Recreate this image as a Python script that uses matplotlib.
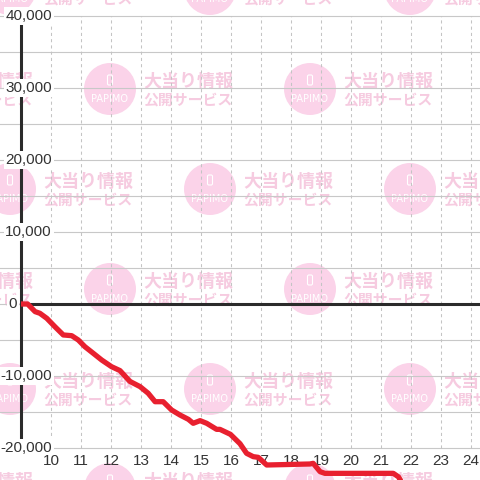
import matplotlib.pyplot as plt
from matplotlib.patches import Circle, FancyBboxPatch
from matplotlib.transforms import blended_transform_factory

# 時刻と差枚
hours = [9.0, 9.22, 9.47, 9.63, 9.86, 10.13, 10.41, 10.69, 10.91, 11.13, 11.41,
         11.69, 12.02, 12.3, 12.63, 12.97, 13.24, 13.47, 13.74, 14.02, 14.3,
         14.58, 14.74, 14.97, 15.19, 15.52, 15.63, 15.98, 16.3, 16.52, 16.74,
         16.91, 17.19, 18.63, 18.74, 18.97, 19.13, 21.41, 21.58, 21.8]
diff = [0, 0, -1060, -1290, -1990, -3150, -4300, -4400, -5000, -5930, -6850,
        -7780, -8710, -9250, -10750, -11480, -12400, -13570, -13570, -14720, -15420,
        -16020, -16570, -16200, -16570, -17410, -17410, -18100, -19400, -20740, -21200,
        -21300, -22360, -22220, -22130, -23290, -23520, -23520, -24000, -25500]

y_labels = [40000, 30000, 20000, 10000, 0, -10000, -20000]
y_grid = [-20000, -15000, -10000, -5000, 0, 5000, 10000, 15000, 20000,
          25000, 30000, 35000, 40000]
x_labels = [10, 11, 12, 13, 14, 15, 16, 17, 18, 19, 20, 21, 22, 23, 24]

W = 480.0
PINK_C = '#fbd3e9'
PINK_T = '#f6cbe0'
JP = ['Noto Sans CJK JP', 'DejaVu Sans']


def stamp(ax, cx, cy):
    # 透かしロゴ (ピクセル座標, 上が0)
    ax.add_patch(Circle((cx / W, 1 - cy / W), 26 / W, transform=ax.transAxes,
                        fc=PINK_C, ec='none', zorder=0.2))
    ax.add_patch(FancyBboxPatch(((cx - 2.5) / W, 1 - (cy - 4) / W), 5 / W, 10 / W,
                                boxstyle='round,pad=0,rounding_size=0.003',
                                transform=ax.transAxes, fc='none', ec='white',
                                lw=0.8, zorder=0.3))
    ax.text(cx / W, 1 - (cy + 10) / W, 'PAPIMO', transform=ax.transAxes,
            ha='center', va='center', fontsize=7, color='white', zorder=0.3,
            family='DejaVu Sans', clip_on=True)
    ax.text((cx + 33) / W, 1 - (cy - 8) / W, '大当り情報', transform=ax.transAxes,
            ha='left', va='center', fontsize=13, color=PINK_T, weight='bold',
            family=JP, zorder=0.2, clip_on=True)
    ax.text((cx + 33) / W, 1 - (cy + 10) / W, '公開サービス', transform=ax.transAxes,
            ha='left', va='center', fontsize=10.7, color=PINK_T, weight='bold',
            family=JP, zorder=0.2, clip_on=True)


fig = plt.figure(figsize=(4.8, 4.8), dpi=100)
ax = fig.add_axes([0, 0, 1, 1])
ax.set_xlim(8.3, 24.3)
ax.set_ylim(-24444, 42222)
ax.axis('off')

for row, cy in enumerate([-11, 89, 189, 289, 389, 489]):
    xs = [10, 210, 410] if row % 2 == 0 else [-90, 110, 310]
    for cx in xs:
        stamp(ax, cx, cy)

for v in y_grid:
    ax.axhline(v, color='#c8c8c8', lw=0.8, zorder=1)
ax.vlines(x_labels, -20000, 40000, colors='#c4c4c4', lw=0.75,
          linestyles=(0, (3, 3)), zorder=1)

ax.plot([9, 9], [-20000, 40000], color='#2b2b2b', lw=2.2, zorder=2)
ax.plot([9, 24.3], [0, 0], color='#2b2b2b', lw=2.2, zorder=2)

ytr = blended_transform_factory(ax.transAxes, ax.transData)
for v in y_labels:
    xr = 17 / W if v == 0 else 52 / W
    ax.text(xr, v, f'{v:,}', transform=ytr, ha='right', va='center',
            fontsize=11, color='#333333', family='Liberation Sans', zorder=3,
            bbox=dict(boxstyle='square,pad=0.12', fc='white', ec='none'))

xtr = blended_transform_factory(ax.transData, ax.transAxes)
for h in x_labels:
    ax.text(h, 1 - 461 / W, str(h), transform=xtr, ha='center', va='center',
            fontsize=11, color='#333333', family='Liberation Sans', zorder=3)

ax.plot(hours, diff, color='#e8202f', lw=3.8, solid_joinstyle='round',
        solid_capstyle='butt', zorder=5)

fig.savefig('out.png', dpi=100)
